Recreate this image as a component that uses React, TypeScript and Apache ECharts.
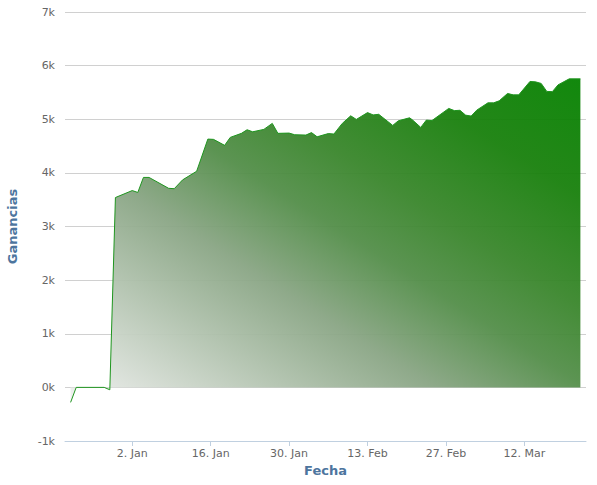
import React, { useEffect, useRef } from "react";
import * as echarts from "echarts";

// Data (date, profit)
const dates = [
  "2011-12-22", "2011-12-23", "2011-12-28", "2011-12-29", "2011-12-30",
  "2012-01-02", "2012-01-03", "2012-01-04", "2012-01-05", "2012-01-08 12:00",
  "2012-01-09 12:00", "2012-01-11", "2012-01-13 12:00", "2012-01-15 12:00", "2012-01-16 12:00",
  "2012-01-18 12:00", "2012-01-19 12:00", "2012-01-21 12:00", "2012-01-22 12:00", "2012-01-23 12:00",
  "2012-01-25 12:00", "2012-01-27", "2012-01-28", "2012-01-30", "2012-01-31",
  "2012-02-02", "2012-02-03", "2012-02-04", "2012-02-06", "2012-02-07",
  "2012-02-08 12:00", "2012-02-10", "2012-02-11", "2012-02-13", "2012-02-14",
  "2012-02-15", "2012-02-17 12:00", "2012-02-18 12:00", "2012-02-20 12:00", "2012-02-21",
  "2012-02-22 12:00", "2012-02-23 12:00", "2012-02-24 12:00", "2012-02-27 12:00", "2012-02-28 12:00",
  "2012-02-29 12:00", "2012-03-01 12:00", "2012-03-02 12:00", "2012-03-03 12:00", "2012-03-05 12:00",
  "2012-03-06 12:00", "2012-03-07 12:00", "2012-03-09", "2012-03-10", "2012-03-11",
  "2012-03-13", "2012-03-14", "2012-03-15", "2012-03-16", "2012-03-17",
  "2012-03-18", "2012-03-20", "2012-03-22",
];
const profits = [
  -280, 0, 0, -45, 3540,
  3670, 3635, 3915, 3915, 3712,
  3705, 3870, 4030, 4630, 4625,
  4513, 4662, 4737, 4804, 4766,
  4811, 4923, 4737, 4742, 4711,
  4705, 4751, 4673, 4733, 4724,
  4923, 5064, 4997, 5124, 5081,
  5092, 4885, 4971, 5027, 4990,
  4848, 4984, 4975, 5202, 5161,
  5167, 5077, 5059, 5170, 5306,
  5306, 5343, 5481, 5455, 5455,
  5705, 5697, 5668, 5519, 5515,
  5641, 5753, 5753,
];
const tickDates = ["2012-01-02", "2012-01-16", "2012-01-30", "2012-02-13", "2012-02-27", "2012-03-12"];
const monthNames = ["Jan", "Feb", "Mar", "Apr", "May", "Jun", "Jul", "Aug", "Sep", "Oct", "Nov", "Dec"];
const xStart = "2011-12-21";
const xEnd = "2012-03-23";
const yMin = -1000;
const yMax = 7000;
const yStep = 1000;

const toTime = (s: string): number => {
  const [d, h] = s.split(" ");
  const [Y, M, D] = d.split("-").map(Number);
  const hour = h ? Number(h.split(":")[0]) : 0;
  return new Date(Y, M - 1, D, hour).getTime();
};

const FONT = "DejaVu Sans";

export default function App() {
  const ref = useRef<HTMLDivElement>(null);
  useEffect(() => {
    if (!ref.current) return;
    const chart = echarts.init(ref.current, undefined, { renderer: "svg" });
    const data = dates.map((d, i) => [toTime(d), profits[i]]);
    const ticks = tickDates.map(toTime);
    const baseOption = {
      animation: false,
      grid: { left: 65, right: 11, top: 12, bottom: 44, containLabel: false, outerBoundsMode: "none" },
      xAxis: {
        type: "value",
        min: toTime(xStart),
        max: toTime(xEnd),
        scale: true,
        splitLine: { show: false },
        axisLine: { show: true, onZero: false, lineStyle: { color: "#C0D0E0", width: 1 } },
        axisTick: { show: true, customValues: ticks, length: 5, lineStyle: { color: "#C0D0E0" } },
        axisLabel: {
          customValues: ticks,
          formatter: (v: number) => {
            const d = new Date(v);
            return `${d.getDate()}. ${monthNames[d.getMonth()]}`;
          },
          color: "#666",
          fontSize: 11,
          fontFamily: FONT,
          margin: 7,
          hideOverlap: false,
        },
        name: "Fecha",
        nameLocation: "middle",
        nameGap: 23,
        nameTextStyle: { color: "#4d759e", fontWeight: "bold", fontSize: 13, fontFamily: FONT },
      },
      yAxis: {
        type: "value",
        min: yMin,
        max: yMax,
        interval: yStep,
        axisLine: { show: false },
        axisTick: { show: false },
        splitLine: { show: true, lineStyle: { color: "#d0d0d0", width: 1 } },
        axisLabel: {
          formatter: (v: number) => `${v / 1000}k`,
          color: "#666",
          fontSize: 11,
          fontFamily: FONT,
          margin: 10,
        },
        name: "Ganancias",
        nameLocation: "middle",
        nameGap: 46,
        nameRotate: 90,
        nameTextStyle: { color: "#4d759e", fontWeight: "bold", fontSize: 13, fontFamily: FONT },
      },
      series: [
        {
          type: "line",
          data,
          symbol: "none",
          smooth: false,
          lineStyle: { color: "#1f951f", width: 1 },
          itemStyle: { color: "#1f951f" },
        },
      ],
    };
    chart.setOption(baseOption);
    // gradient over the area's bounding box, bottom-left -> top-right (box-relative diagonal)
    const xs = data.map((p) => p[0]);
    const ys = data.map((p) => p[1]).concat([0]);
    const [x0, y0] = chart.convertToPixel({ gridIndex: 0 }, [Math.min(...xs), Math.min(...ys)]);
    const [x1, y1] = chart.convertToPixel({ gridIndex: 0 }, [Math.max(...xs), Math.max(...ys)]);
    const W = x1 - x0;
    const H = y0 - y1;
    const s = W * W + H * H;
    const dx = (2 * W * H * H) / s;
    const dy = (-2 * W * W * H) / s;
    const grad = new echarts.graphic.LinearGradient(
      x0, y0, x0 + dx, y0 + dy,
      [
        { offset: 0, color: "#f1f1f1" },
        { offset: 0.38, color: "#89a584" },
        { offset: 0.53, color: "#538e49" },
        { offset: 0.65, color: "#39862b" },
        { offset: 0.82, color: "#18800c" },
        { offset: 1, color: "#058200" },
      ],
      true
    );
    chart.setOption({ series: [{ areaStyle: { opacity: 0.95, color: grad } }] });
    return () => chart.dispose();
  }, []);
  return (
    <div
      ref={ref}
      style={{ position: "fixed", left: 0, top: 0, width: 597, height: 485, background: "#fff" }}
    />
  );
}
